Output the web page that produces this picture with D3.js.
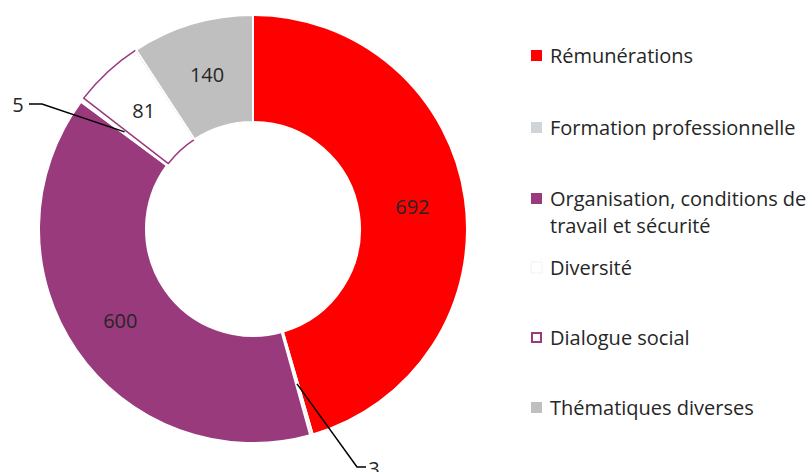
<!DOCTYPE html>
<html>
<head>
<meta charset="utf-8">
<script src="https://cdn.jsdelivr.net/npm/d3@7"></script>
<style>
  body { margin: 0; background: #fff; }
  text { font-family: 'Open Sans', 'Noto Sans', sans-serif; fill: #262626; }
</style>
</head>
<body>
<div id="root"></div>
<script>
const width = 811;
const height = 472;

const categories = [
  'Rémunérations',
  'Formation professionnelle',
  'Organisation, conditions de travail et sécurité',
  'Diversité',
  'Dialogue social',
  'Thématiques diverses',
];
const values = [692, 3, 600, 5, 81, 140];
const legendLines = [
  ['Rémunérations'],
  ['Formation professionnelle'],
  ['Organisation, conditions de', 'travail et sécurité'],
  ['Diversité'],
  ['Dialogue social'],
  ['Thématiques diverses'],
];
const colors = ['#ff0000', '#d0d4d7', '#993a7d', '#ffffff', '#ffffff', '#bfbfbf'];
const strokes = ['#fff', '#fff', '#fff', '#fff', '#993a7d', '#fff'];

const cx = 253;
const cy = 229;
const outerR = 214;
const innerR = 107;

const svg = d3
  .select('#root')
  .append('svg')
  .attr('width', width)
  .attr('height', height);

const pie = d3.pie().sort(null).value((d) => d);
const arcs = pie(values);

const arc = d3.arc().innerRadius(innerR).outerRadius(outerR);
const labelArc = d3.arc().innerRadius(161).outerRadius(161);

const g = svg.append('g').attr('transform', `translate(${cx}, ${cy})`);

g.selectAll('path')
  .data(arcs)
  .enter()
  .append('path')
  .attr('d', arc)
  .attr('fill', (d, i) => colors[i])
  .attr('stroke', (d, i) => strokes[i])
  .attr('stroke-width', (d, i) => (i === 4 ? 1.5 : 2))
  .attr('stroke-linejoin', 'round');

// labels inside the ring for the big slices
g.selectAll('text.value')
  .data(arcs.filter((d) => d.value > 50))
  .enter()
  .append('text')
  .attr('class', 'value')
  .attr('x', (d) => labelArc.centroid(d)[0])
  .attr('y', (d) => labelArc.centroid(d)[1])
  .attr('text-anchor', 'middle')
  .attr('dominant-baseline', 'central')
  .attr('font-size', 20)
  .text((d) => d.value);

// small slices: label outside with leader line
const callouts = [
  { index: 1, label: [374, 468], elbow: [357, 467] },
  { index: 3, label: [18, 104], elbow: [42, 104] },
];

callouts.forEach((c) => {
  const a = arcs[c.index];
  const [sx, sy] = labelArc.centroid(a);
  const ex = c.elbow[0] - cx;
  const ey = c.elbow[1] - cy;
  const lx = c.label[0] - cx;
  const ly = c.label[1] - cy;
  const end = c.index === 1 ? lx - 8 : lx + 11;
  g.append('path')
    .attr('d', `M${sx},${sy}L${ex},${ey}L${end},${ey}`)
    .attr('fill', 'none')
    .attr('stroke', '#000')
    .attr('stroke-width', 1.5);
  g.append('text')
    .attr('x', lx)
    .attr('y', ly)
    .attr('text-anchor', 'middle')
    .attr('dominant-baseline', 'central')
    .attr('font-size', 20)
    .text(a.value);
});

// legend
const legendY = [55, 127, 198, 267, 337, 407];

const legend = svg.append('g').attr('transform', 'translate(531, 0)');

legend
  .selectAll('rect')
  .data(categories)
  .enter()
  .append('rect')
  .attr('x', (d, i) => (i === 4 ? 1 : 0))
  .attr('y', (d, i) => legendY[i] - 5 + (i === 4 ? 1 : 0))
  .attr('width', (d, i) => (i === 4 ? 9 : 11))
  .attr('height', (d, i) => (i === 4 ? 9 : 11))
  .attr('fill', (d, i) => colors[i])
  .attr('stroke', (d, i) => (i === 4 ? '#993a7d' : i === 3 ? '#f2f2f2' : 'none'))
  .attr('stroke-width', (d, i) => (i === 4 ? 2 : 1));

legend
  .selectAll('text')
  .data(legendLines)
  .enter()
  .append('text')
  .attr('x', 19)
  .attr('y', (d, i) => legendY[i])
  .attr('dominant-baseline', 'central')
  .attr('font-size', 20)
  .each(function (lines) {
    d3.select(this)
      .selectAll('tspan')
      .data(lines)
      .enter()
      .append('tspan')
      .attr('x', 19)
      .attr('dy', (l, j) => (j === 0 ? 0 : 27))
      .text((l) => l);
  });
</script>
</body>
</html>
